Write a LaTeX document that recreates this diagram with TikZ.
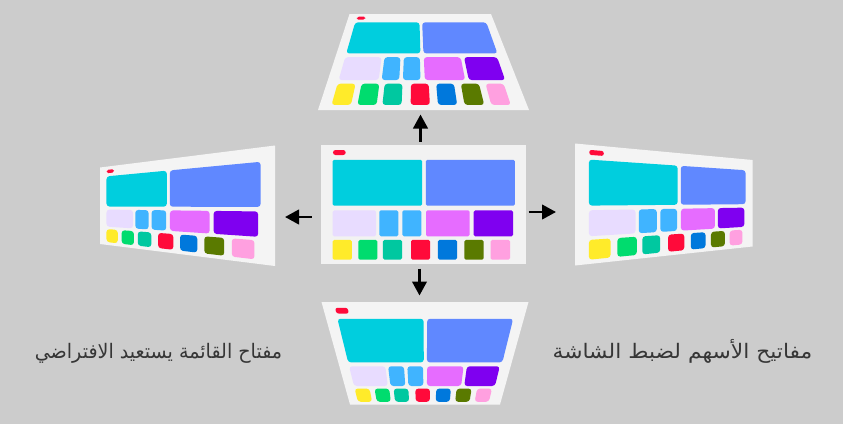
\documentclass[tikz,border=0pt]{standalone}
\usepackage{fontspec}
\usepackage{graphicx}
\newfontfamily\arabicfont[Script=Arabic]{DejaVu Sans}
\TeXXeTstate=1
\usetikzlibrary{arrows.meta}

\definecolor{bgc}{HTML}{CCCCCC}
\definecolor{scrc}{HTML}{F2F2F2}
\definecolor{scrp}{HTML}{F4F4F4}
\definecolor{cpill}{HTML}{FF0A3A}
\definecolor{ccyan}{HTML}{00CEDE}
\definecolor{cblue}{HTML}{6088FF}
\definecolor{clav}{HTML}{E8DCFF}
\definecolor{clb}{HTML}{40B4FF}
\definecolor{cmag}{HTML}{E66CFF}
\definecolor{cpur}{HTML}{7F00F0}
\definecolor{cyel}{HTML}{FFEB2A}
\definecolor{cgrn}{HTML}{00DC6E}
\definecolor{cteal}{HTML}{00C8A0}
\definecolor{cred}{HTML}{FF0A3A}
\definecolor{cdblue}{HTML}{0078DC}
\definecolor{colive}{HTML}{5A7A00}
\definecolor{cpink}{HTML}{FFA0E0}
\definecolor{txtc}{HTML}{363636}

% homography from unit square to quad TL, TR, BR, BL
\newcommand\setquad[8]{%
  \edef\qdxa{\fpeval{(#3)-(#5)}}%
  \edef\qdxb{\fpeval{(#7)-(#5)}}%
  \edef\qdxc{\fpeval{(#1)-(#3)+(#5)-(#7)}}%
  \edef\qdya{\fpeval{(#4)-(#6)}}%
  \edef\qdyb{\fpeval{(#8)-(#6)}}%
  \edef\qdyc{\fpeval{(#2)-(#4)+(#6)-(#8)}}%
  \edef\qden{\fpeval{(\qdxa)*(\qdyb)-(\qdxb)*(\qdya)}}%
  \edef\qg{\fpeval{((\qdxc)*(\qdyb)-(\qdxb)*(\qdyc))/(\qden)}}%
  \edef\qh{\fpeval{((\qdxa)*(\qdyc)-(\qdxc)*(\qdya))/(\qden)}}%
  \edef\qa{\fpeval{(#3)-(#1)+(\qg)*(#3)}}%
  \edef\qb{\fpeval{(#7)-(#1)+(\qh)*(#7)}}%
  \edef\qc{#1}%
  \edef\qd{\fpeval{(#4)-(#2)+(\qg)*(#4)}}%
  \edef\qe{\fpeval{(#8)-(#2)+(\qh)*(#8)}}%
  \edef\qf{#2}%
}
\newcommand\qp[2]{(\fpeval{((\qa)*(#1)+(\qb)*(#2)+(\qc))/((\qg)*(#1)+(\qh)*(#2)+1)},\fpeval{((\qd)*(#1)+(\qe)*(#2)+(\qf))/((\qg)*(#1)+(\qh)*(#2)+1)})}
\newcommand\qbox[5]{\edef\qtmp{\noexpand\fill[#1] \qp{#2}{#3} -- \qp{#4}{#3} -- \qp{#4}{#5} -- \qp{#2}{#5} -- cycle;}\qtmp}

% screen layout: #1 screen colour, #2 corner radius, #3 pill radius
\newcommand\drawscreen[3]{%
  \qbox{fill=#1}{0}{0}{1}{1}%
  \qbox{fill=cpill,rounded corners=#3}{0.0585}{0.042}{0.1205}{0.084}%
  \qbox{fill=ccyan,rounded corners=#2}{0.057}{0.124}{0.493}{0.510}%
  \qbox{fill=cblue,rounded corners=#2}{0.511}{0.124}{0.946}{0.510}%
  \qbox{fill=clav,rounded corners=#2}{0.057}{0.549}{0.2683}{0.767}%
  \qbox{fill=clb,rounded corners=#2}{0.2845}{0.549}{0.3771}{0.767}%
  \qbox{fill=clb,rounded corners=#2}{0.3966}{0.549}{0.4893}{0.767}%
  \qbox{fill=cmag,rounded corners=#2}{0.5122}{0.549}{0.7254}{0.767}%
  \qbox{fill=cpur,rounded corners=#2}{0.7448}{0.549}{0.9366}{0.767}%
  \qbox{fill=cyel,rounded corners=#2}{0.057}{0.798}{0.151}{0.964}%
  \qbox{fill=cgrn,rounded corners=#2}{0.1820}{0.798}{0.2746}{0.964}%
  \qbox{fill=cteal,rounded corners=#2}{0.3024}{0.798}{0.3951}{0.964}%
  \qbox{fill=cred,rounded corners=#2}{0.4390}{0.798}{0.5317}{0.964}%
  \qbox{fill=cdblue,rounded corners=#2}{0.5707}{0.798}{0.6634}{0.964}%
  \qbox{fill=colive,rounded corners=#2}{0.6990}{0.798}{0.7937}{0.964}%
  \qbox{fill=cpink,rounded corners=#2}{0.8278}{0.798}{0.9220}{0.964}%
}

\tikzset{
  arr/.style={line width=2.6pt, draw=black, -{Triangle[length=14pt,width=14.5pt]}},
  caption/.style={text=txtc, font=\arabicfont\fontsize{20}{24}\selectfont, inner sep=0pt, anchor=base},
}

\begin{document}
\begin{tikzpicture}[x=1pt,y=-1pt]
\fill[bgc] (0,0) rectangle (843,424);
\useasboundingbox (0,0) rectangle (843,424);

% centre screen
\setquad{321}{145}{526}{145}{526}{264}{321}{264}
\drawscreen{scrc}{1.5pt}{2.5pt}
% top screen
\setquad{349.5}{14}{491}{14}{529}{110}{318}{110}
\drawscreen{scrp}{3pt}{1.8pt}
% bottom screen
\setquad{321.5}{302}{528.5}{302}{500}{404.5}{350}{404.5}
\drawscreen{scrp}{3pt}{2.2pt}
% left screen
\setquad{100}{167.5}{275}{145.5}{275}{266}{100}{244}
\drawscreen{scrp}{3pt}{1.6pt}
% right screen
\setquad{575}{143.5}{752.5}{160}{752.5}{246.5}{575}{265.5}
\drawscreen{scrp}{3pt}{2.2pt}

% arrows
\coordinate (upT) at (420.5,141.5);
\coordinate (upH) at (420.5,114.5);
\coordinate (dnT) at (419.5,268.5);
\coordinate (dnH) at (419.5,295.5);
\coordinate (lfT) at (311.5,217);
\coordinate (lfH) at (285,217);
\coordinate (rtT) at (528.5,212);
\coordinate (rtH) at (556,212);
\draw[arr] (upT) -- (upH);
\draw[arr] (dnT) -- (dnH);
\draw[arr] (lfT) -- (lfH);
\draw[arr] (rtT) -- (rtH);

% captions
\node[caption] (capL) at (158.5,358) {\scalebox{0.955}[1]{\beginR مفتاح القائمة يستعيد الافتراضي\endR}};
\node[caption] (capR) at (682.5,358) {\scalebox{1.09}[1]{\beginR مفاتيح الأسهم لضبط الشاشة\endR}};
\end{tikzpicture}
\end{document}
